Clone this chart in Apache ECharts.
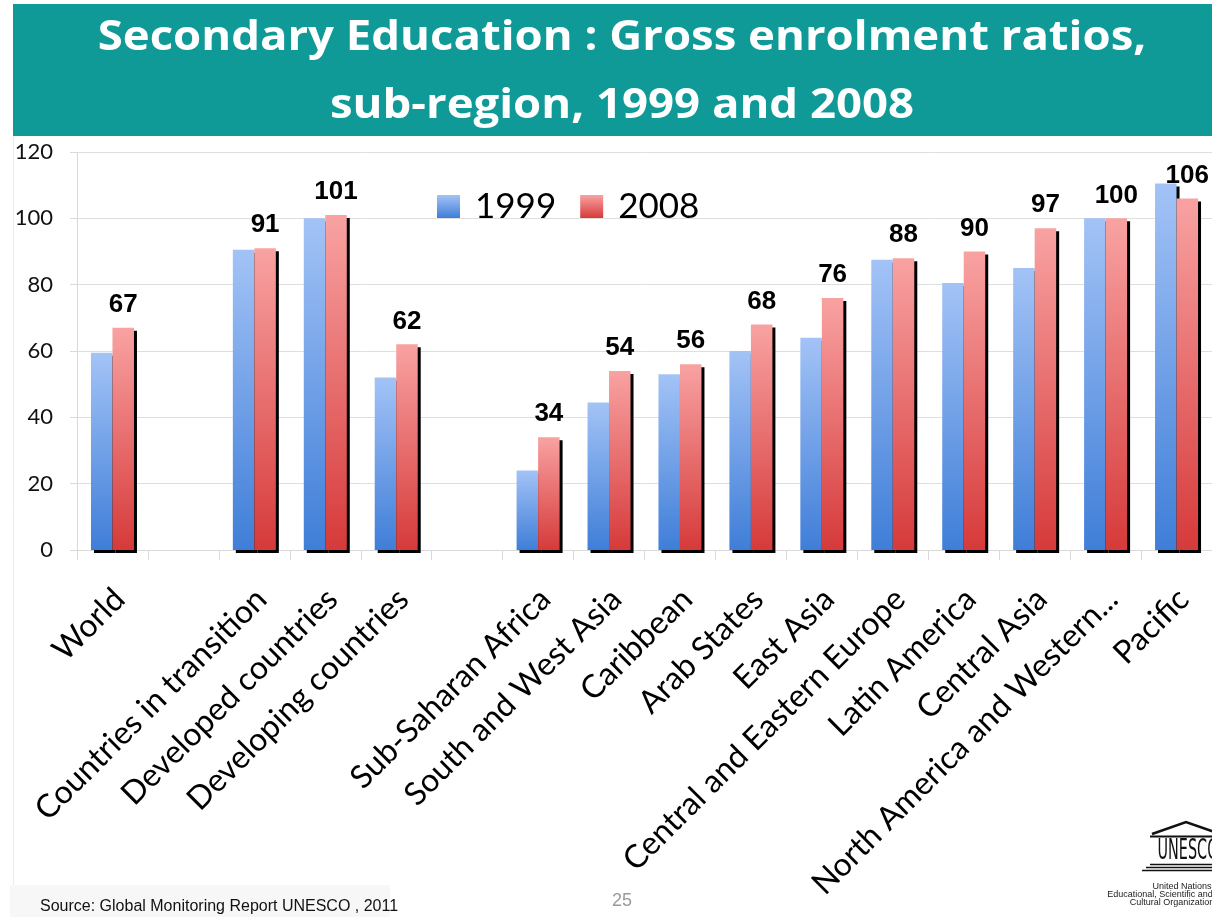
<!DOCTYPE html>
<html>
<head>
<meta charset="utf-8">
<script src="https://cdn.jsdelivr.net/npm/echarts@6/dist/echarts.min.js"></script>
<style>
  html, body { margin: 0; padding: 0; background: #ffffff; }
  #chart { width: 1212px; height: 917px; }
</style>
</head>
<body>
<div id="chart"></div>
<script>
// Secondary education gross enrolment ratios by sub-region
const categories = [
  'World', '', 'Countries in transition', 'Developed countries', 'Developing countries', '',
  'Sub-Saharan Africa', 'South and West Asia', 'Caribbean', 'Arab States', 'East Asia',
  'Central and Eastern Europe', 'Latin America', 'Central Asia', 'North America and Western...', 'Pacific'
];
const ratio1999 = [59.5, null, 90.5, 100, 52, null, 24, 44.5, 53, 60, 64, 87.5, 80.5, 85, 100, 110.5];
const ratio2008 = [67, null, 91, 101, 62, null, 34, 54, 56, 68, 76, 88, 90, 97, 100, 106];
const seriesNames = ['1999', '2008'];
const yTicks = { min: 0, max: 120, interval: 20 };

const chart = echarts.init(document.getElementById('chart'), null, { renderer: 'canvas' });

function vGrad(top, bottom) {
  return new echarts.graphic.LinearGradient(0, 0, 0, 1, [
    { offset: 0, color: top },
    { offset: 1, color: bottom }
  ]);
}

const barShadow = { shadowColor: '#000000', shadowBlur: 0, shadowOffsetX: 3, shadowOffsetY: 3 };

chart.setOption({
  backgroundColor: '#ffffff',
  animation: false,
  grid: { left: 77, right: -11, top: 152, bottom: 367, containLabel: false },
  legend: {
    left: 437, top: 189, padding: 0,
    icon: 'rect',
    itemWidth: 23, itemHeight: 23, itemGap: 24,
    textStyle: { fontFamily: 'Lato', fontSize: 35, color: '#000000', padding: [0, 0, 0, 10] },
    data: seriesNames
  },
  xAxis: {
    type: 'category',
    data: categories,
    axisLine: { lineStyle: { color: '#d9d9d9', width: 1 } },
    axisTick: { show: true, length: 10, lineStyle: { color: '#d9d9d9' } },
    axisLabel: {
      interval: 0, rotate: 45, margin: 37,
      verticalAlign: 'top', lineHeight: 20,
      fontFamily: 'Lato', fontSize: 32, color: '#000000'
    }
  },
  yAxis: {
    type: 'value',
    min: yTicks.min, max: yTicks.max, interval: yTicks.interval,
    axisLine: { show: true, lineStyle: { color: '#d9d9d9' } },
    axisTick: { show: true, length: 7, lineStyle: { color: '#d9d9d9' } },
    splitLine: { lineStyle: { color: '#dedede', width: 1 } },
    axisLabel: { margin: 24, fontFamily: 'Lato', fontSize: 22, color: '#111111' }
  },
  series: [
    {
      name: seriesNames[0], type: 'bar', data: ratio1999,
      barWidth: 21.5, barGap: '0%',
      itemStyle: Object.assign({ color: vGrad('#a3c3f6', '#3f7ed8') }, barShadow)
    },
    {
      name: seriesNames[1], type: 'bar', data: ratio2008,
      barWidth: 21.5, barGap: '0%',
      itemStyle: Object.assign({ color: vGrad('#f9a2a2', '#d63a3a') }, barShadow),
      label: {
        show: true, position: 'top', distance: 10,
        fontFamily: 'Liberation Sans', fontWeight: 'bold', fontSize: 26, color: '#000000',
        formatter: p => p.value
      }
    }
  ],
  graphic: [
    // title banner
    { type: 'rect', left: 13, top: 4, shape: { width: 1199, height: 132 }, style: { fill: '#0f9a98' }, z: 0 },
    { type: 'text', x: 622, y: 59, scaleX: 1.11, style: { text: 'Secondary Education : Gross enrolment ratios,', fill: '#ffffff',
      font: 'bold 41px "Open Sans"', textAlign: 'center', textVerticalAlign: 'bottom' } },
    { type: 'text', x: 622, y: 127, scaleX: 1.11, style: { text: 'sub-region, 1999 and 2008', fill: '#ffffff',
      font: 'bold 41px "Open Sans"', textAlign: 'center', textVerticalAlign: 'bottom' } },
    // slide frame and footer strip
    { type: 'line', shape: { x1: 13.5, y1: 136, x2: 13.5, y2: 885 }, style: { stroke: '#ececec', lineWidth: 1 } },
    { type: 'rect', left: 10, top: 885, shape: { width: 380, height: 32 }, style: { fill: '#f7f7f7' }, z: 0 },
    { type: 'text', x: 40, y: 915, style: { text: 'Source: Global Monitoring Report UNESCO , 2011', fill: '#111111',
      font: '16px "Liberation Sans"', textAlign: 'left', textVerticalAlign: 'bottom' } },
    { type: 'text', x: 622, y: 910, style: { text: '25', fill: '#9a9a9a',
      font: '18px "Liberation Sans"', textAlign: 'center', textVerticalAlign: 'bottom' } },
    // organisation emblem
    { type: 'polyline', shape: { points: [[1152, 834], [1186, 822], [1220, 834]] }, style: { stroke: '#111', lineWidth: 2.5, fill: null } },
    { type: 'line', shape: { x1: 1150, y1: 836.5, x2: 1222, y2: 836.5 }, style: { stroke: '#111', lineWidth: 2 } },
    { type: 'text', x: 1188, y: 838, scaleY: 1.75, style: { text: 'UNESCO', fill: '#111',
      font: '16px "Liberation Sans Narrow", "DejaVu Sans Condensed"', textAlign: 'center', textVerticalAlign: 'top' } },
    { type: 'line', shape: { x1: 1150, y1: 864.5, x2: 1222, y2: 864.5 }, style: { stroke: '#111', lineWidth: 1.5 } },
    { type: 'line', shape: { x1: 1146, y1: 867.5, x2: 1226, y2: 867.5 }, style: { stroke: '#111', lineWidth: 1.5 } },
    { type: 'line', shape: { x1: 1142, y1: 870.5, x2: 1230, y2: 870.5 }, style: { stroke: '#111', lineWidth: 1.5 } },
    { type: 'text', x: 1182, y: 891, style: { text: 'United Nations', fill: '#222', font: '9px "Liberation Sans"', textAlign: 'center', textVerticalAlign: 'bottom' } },
    { type: 'text', x: 1160, y: 899, style: { text: 'Educational, Scientific and', fill: '#222', font: '9px "Liberation Sans"', textAlign: 'center', textVerticalAlign: 'bottom' } },
    { type: 'text', x: 1172, y: 907, style: { text: 'Cultural Organization', fill: '#222', font: '9px "Liberation Sans"', textAlign: 'center', textVerticalAlign: 'bottom' } }
  ]
});
</script>
</body>
</html>
